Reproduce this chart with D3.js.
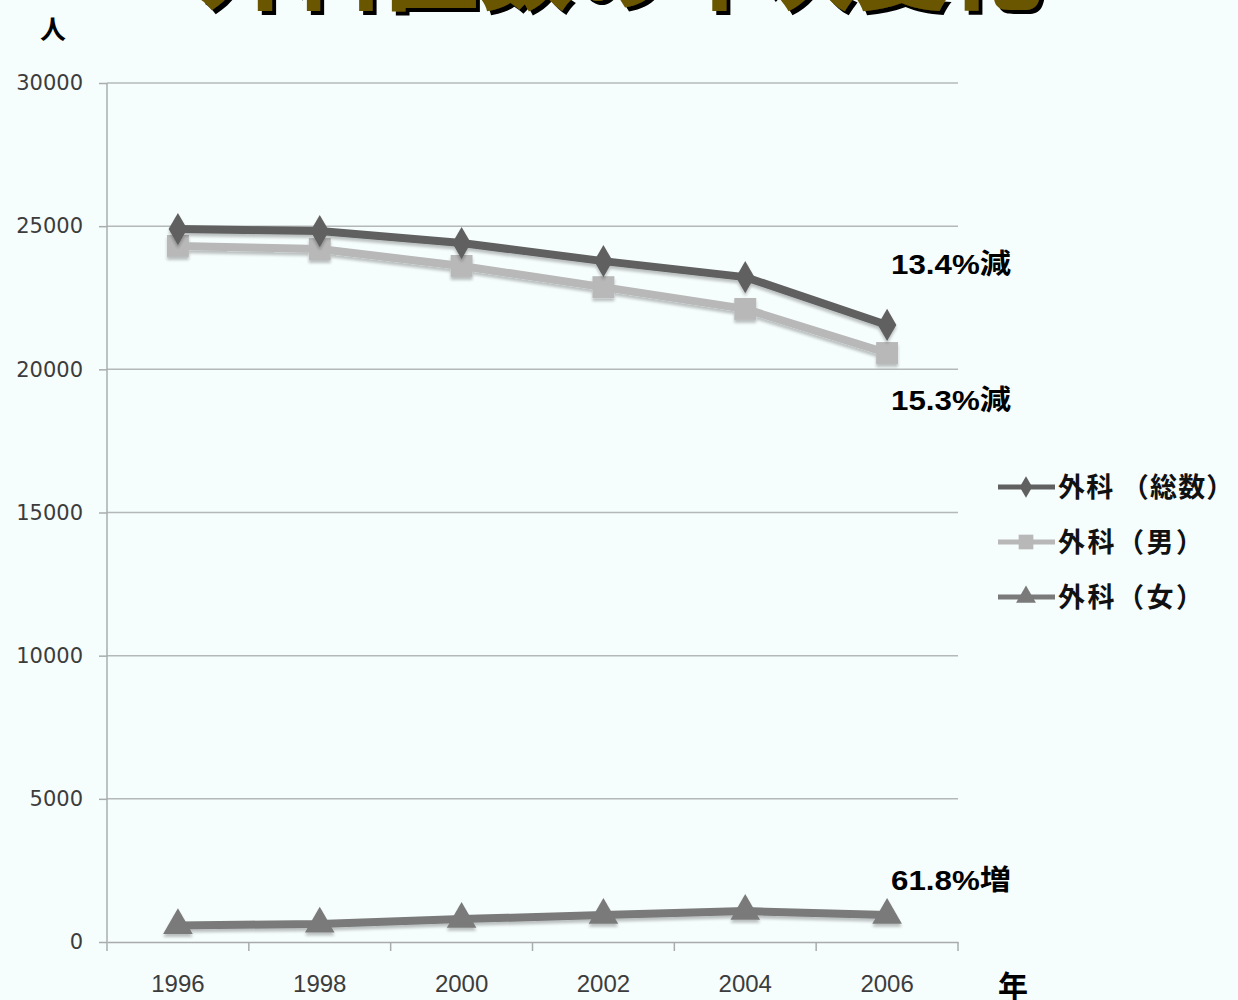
<!DOCTYPE html>
<html><head><meta charset="utf-8">
<script src="https://cdn.jsdelivr.net/npm/d3@7"></script>
<style>
body{margin:0;background:#f6fdfd;}
svg{display:block;}
</style></head>
<body><svg id="c" width="1238" height="1000"></svg>
<script>
const years = ["1996","1998","2000","2002","2004","2006"];
const totalVals = [24900, 24830, 24410, 23780, 23220, 21550];
const maleVals = [24310, 24200, 23610, 22870, 22110, 20570];
const femaleVals = [580, 630, 800, 940, 1080, 940];
const yTicks = [0, 5000, 10000, 15000, 20000, 25000, 30000];
const legendLabels = ["外科 （総数）", "外科（男）", "外科（女）"];
const annotations = [
  {text:"13.4%減", series:0, dy:-60},
  {text:"15.3%減", series:1, dy:47},
  {text:"61.8%増", series:2, dy:-35}
];
const titleText = "外科医数の年次変化";

const svg = d3.select("#c");
svg.append("rect").attr("width",1238).attr("height",1000).attr("fill","#f6fdfd");
const defs = svg.append("defs");

// title shadow filter
const tf = defs.append("filter").attr("id","ts").attr("x","-5%").attr("y","-50%").attr("width","110%").attr("height","200%");
tf.append("feOffset").attr("in","SourceAlpha").attr("dx",4).attr("dy",4).attr("result","o");
const tm = tf.append("feMerge");
tm.append("feMergeNode").attr("in","o");
tm.append("feMergeNode").attr("in","SourceGraphic");

// title (cut off at top, as in the reference)
svg.append("text").attr("x",620).attr("y",2).attr("text-anchor","middle")
  .attr("font-family","'Noto Sans CJK JP'").attr("font-weight",900).attr("font-size",94)
  .attr("fill","#6b5600").attr("filter","url(#ts)").text(titleText);

const x = d3.scaleBand().domain(years).range([107,958]);
const y = d3.scaleLinear().domain([0,30000]).range([942,83]);

// grid
svg.append("g").selectAll("line").data(yTicks.filter(d=>d>0)).join("line")
  .attr("x1",107).attr("x2",958).attr("y1",d=>y(d)).attr("y2",d=>y(d))
  .attr("stroke","#b4b8b8").attr("stroke-width",1.5);

// y axis
const ya = svg.append("g").attr("transform","translate(107,0)")
  .call(d3.axisLeft(y).tickValues(yTicks).tickSize(8).tickFormat(d3.format("d")));
ya.select(".domain").attr("stroke","#a8acac").attr("stroke-width",1.5).attr("d","M0,83V942");
ya.selectAll(".tick line").attr("stroke","#a8acac").attr("stroke-width",1.5);
ya.selectAll(".tick text").attr("x",-24).attr("font-family","'DejaVu Sans'").attr("font-size",21)
  .attr("fill","#3c3c3c");

// x axis
const xa = svg.append("g").attr("transform","translate(0,942)")
  .call(d3.axisBottom(x).tickSize(0));
xa.select(".domain").attr("stroke","#a8acac").attr("stroke-width",1.5);
xa.selectAll(".tick text").attr("y",33).attr("font-family","'Liberation Sans Narrow','Liberation Sans'")
  .attr("font-size",24).attr("fill","#3c3c3c");
const bounds = years.map(d=>x(d)).concat([x.range()[1]]);
xa.append("g").selectAll("line").data(bounds).join("line")
  .attr("x1",d=>d).attr("x2",d=>d).attr("y1",0).attr("y2",9)
  .attr("stroke","#a8acac").attr("stroke-width",1.5);

const cx = d => x(d) + x.bandwidth()/2;
const series = [
  {vals: totalVals, color:"#606060", sym:d3.symbolDiamond, size:300},
  {vals: maleVals, color:"#b8b8b8", sym:d3.symbolSquare, size:480},
  {vals: femaleVals, color:"#7a7a7a", sym:d3.symbolTriangle, size:380}
];
const line = d3.line().x((d,i)=>cx(years[i])).y(d=>y(d));
const drawOrder = [2,1,0];
const shadowFilter = defs.append("filter").attr("id","sh").attr("x","-20%").attr("y","-20%").attr("width","140%").attr("height","160%");
shadowFilter.append("feGaussianBlur").attr("in","SourceAlpha").attr("stdDeviation",1.5).attr("result","b");
shadowFilter.append("feOffset").attr("in","b").attr("dy",3).attr("result","o");
shadowFilter.append("feComponentTransfer").attr("in","o").attr("result","o2").append("feFuncA").attr("type","linear").attr("slope",0.25);
const fm = shadowFilter.append("feMerge");
fm.append("feMergeNode").attr("in","o2");
fm.append("feMergeNode").attr("in","SourceGraphic");

drawOrder.forEach(si=>{
  const s = series[si];
  const g = svg.append("g").attr("filter","url(#sh)");
  g.append("path").datum(s.vals).attr("d",line).attr("fill","none")
    .attr("stroke",s.color).attr("stroke-width",8).attr("stroke-linejoin","round");
  g.selectAll("path.m").data(s.vals).join("path").attr("class","m")
    .attr("transform",(d,i)=>`translate(${cx(years[i])},${y(d)})`)
    .attr("d",d3.symbol().type(s.sym).size(s.size)).attr("fill",s.color);
});

// annotations
annotations.forEach(a=>{
  const v = series[a.series].vals[5];
  svg.append("text").attr("x",891).attr("y",y(v)+a.dy).attr("dominant-baseline","central")
    .attr("font-family","'Liberation Sans','Noto Sans CJK JP'").attr("font-weight","bold")
    .attr("font-size",28).attr("textLength",120).attr("lengthAdjust","spacingAndGlyphs")
    .attr("fill","#000").text(a.text);
});

// legend
const lg = svg.append("g");
legendLabels.forEach((t,i)=>{
  const s = series[i];
  const yy = 487 + i*55;
  lg.append("line").attr("x1",998).attr("x2",1055).attr("y1",yy).attr("y2",yy)
    .attr("stroke",s.color).attr("stroke-width",5);
  lg.append("path").attr("transform",`translate(1026,${yy})`)
    .attr("d",d3.symbol().type(s.sym).size(s.size*0.45)).attr("fill",s.color);
  lg.append("text").attr("x",1058).attr("y",yy-2).attr("dominant-baseline","central")
    .attr("font-family","'Noto Sans CJK JP'").attr("font-weight","bold").attr("font-size",27)
    .attr("letter-spacing",i===0?1.2:2.5).attr("fill","#111").text(t);
});

// unit labels
svg.append("text").attr("x",53).attr("y",27).attr("text-anchor","middle").attr("dominant-baseline","central")
  .attr("font-family","'Noto Sans CJK JP'").attr("font-weight","bold").attr("font-size",26).text("人");
svg.append("text").attr("x",1013).attr("y",984).attr("text-anchor","middle").attr("dominant-baseline","central")
  .attr("font-family","'Noto Sans CJK JP'").attr("font-weight","bold").attr("font-size",30).text("年");
</script></body></html>
